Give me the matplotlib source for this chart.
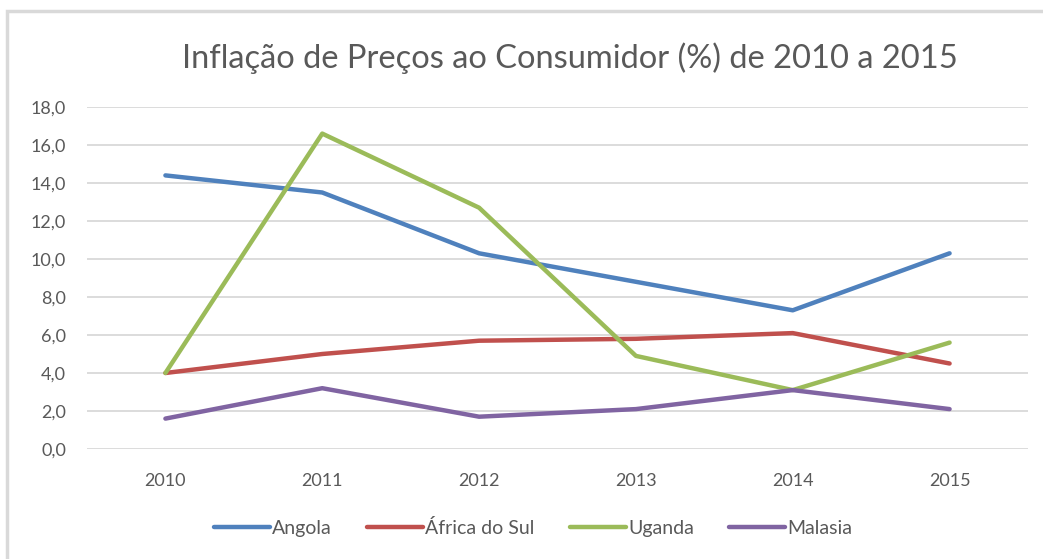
import matplotlib
matplotlib.use("Agg")
import matplotlib.pyplot as plt
from matplotlib.patches import Rectangle
from matplotlib.ticker import FuncFormatter

# data
years = ["2010", "2011", "2012", "2013", "2014", "2015"]
angola = [14.4, 13.5, 10.3, 8.8, 7.3, 10.3]
africa_sul = [4.0, 5.0, 5.7, 5.8, 6.1, 4.5]
uganda = [4.0, 16.6, 12.7, 4.9, 3.1, 5.6]
malasia = [1.6, 3.2, 1.7, 2.1, 3.1, 2.1]

series_names = ["Angola", "África do Sul", "Uganda", "Malasia"]
series_colors = ["#4F81BD", "#C0504D", "#9BBB59", "#8064A2"]

plt.rcParams["font.family"] = ["Lato", "DejaVu Sans"]
text_gray = "#595959"

fig = plt.figure(figsize=(10.43, 5.59), dpi=100)
# chart border, Excel style
fig.patches.append(Rectangle((7 / 1043, -0.1), 1.2, 1 - 11.5 / 559 + 0.1,
                             transform=fig.transFigure, fill=False,
                             edgecolor="#D9D9D9", linewidth=2.5))

ax = fig.add_axes([87 / 1043, 1 - 449 / 559, (1028 - 87) / 1043, (449 - 107) / 559])

x = range(len(years))
for vals, name, col in zip([angola, africa_sul, uganda, malasia], series_names, series_colors):
    ax.plot(x, vals, color=col, linewidth=3.2, label=name, solid_capstyle="round",
            solid_joinstyle="round")

ax.set_xlim(-0.5, len(years) - 0.5)
ax.set_ylim(0, 18)
ax.set_yticks(range(0, 19, 2))
ax.yaxis.set_major_formatter(FuncFormatter(lambda v, p: f"{v:.1f}".replace(".", ",")))
ax.set_xticks(list(x))
ax.set_xticklabels(years)
ax.grid(axis="y", color="#D9D9D9", linewidth=1.3)
ax.set_axisbelow(True)
for s in ax.spines.values():
    s.set_visible(False)
ax.tick_params(length=0, labelsize=13, labelcolor=text_gray)
ax.tick_params(axis="y", pad=15)
ax.tick_params(axis="x", pad=17)

fig.text(570 / 1043, 1 - 58 / 559, "Inflação de Preços ao Consumidor (%) de 2010 a 2015",
         ha="center", va="center", fontsize=23.5, color=text_gray)

fig.legend(loc="center", bbox_to_anchor=(533 / 1043, 1 - 528 / 559), ncol=4,
           frameon=False, fontsize=14, labelcolor=text_gray, handlelength=2.9,
           handletextpad=0.1, columnspacing=1.8)

fig.savefig("out.png", dpi=100)
